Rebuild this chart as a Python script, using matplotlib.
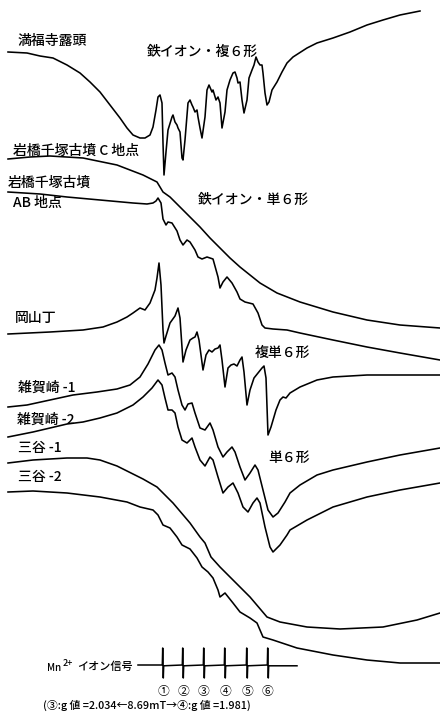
import numpy as np
import matplotlib
matplotlib.use("Agg")
import matplotlib.pyplot as plt

plt.rcParams['font.family'] = ['Noto Sans CJK JP', 'DejaVu Sans']

# ---- traced spectra (horizontal: field, vertical: page offset, image units) ----
manpukuji = [(8,52),(27,53),(40,56),(53,58),(67,65),(80,73),(90,82),(100,92),(110,105),(120,118),
             (127,128),(133,135),(140,138),(145,138),(150,135),(153,127),(156,110),(158,97),(160,95),
             (162,103),(163,143),(164,175),(166,152),(168,130),(172,117),(173,115),(175,122),(177,125),
             (178,128),(180,132),(182,158),(183,160),(185,140),(188,103),(190,100),(192,105),(193,107),
             (195,112),(197,110),(198,117),(200,128),(202,138),(205,117),(207,90),(209,85),(212,92),
             (213,90),(216,100),(218,97),(220,103),(222,128),(225,112),(227,90),(230,80),(233,73),
             (235,72),(237,78),(238,83),(240,82),(242,100),(244,113),(247,100),(249,78),(252,70),
             (254,65),(256,57),(258,62),(260,65),(262,65),(263,73),(265,93),(267,105),(269,102),
             (272,90),(277,82),(282,72),(287,63),(290,60),(293,57),(307,48),(317,43),(333,38),
             (350,32),(367,25),(383,20),(400,15),(420,11)]

iwase_c = [(8,159),(30,157),(50,156),(83,158),(117,165),(130,170),(143,175),(157,182),(160,187),
           (163,192),(170,197),(180,207),(190,217),(200,227),(210,238),(220,248),(230,258),(240,267),
           (250,275),(260,283),(277,293),(300,302),(333,312),(367,320),(400,325),(440,328)]

iwase_ab = [(8,192),(40,194),(67,197),(100,200),(133,203),(147,204),(153,203),(156,201),(158,198),
            (161,203),(163,219),(166,225),(168,222),(172,223),(177,231),(180,240),(183,245),(187,240),
            (190,242),(195,250),(198,257),(202,259),(207,257),(213,259),(218,277),(220,288),(223,282),
            (227,277),(232,283),(237,292),(240,299),(245,302),(253,304),(258,313),(262,325),(265,328),
            (273,329),(287,330),(300,333),(333,340),(367,347),(400,353),(440,360)]

okayama = [(8,334),(50,332),(83,330),(103,327),(117,322),(127,317),(133,313),(140,308),(145,310),
           (150,303),(155,290),(157,278),(159,263),(161,285),(163,330),(164,343),(166,336),(170,323),
           (175,316),(178,308),(180,318),(183,362),(186,350),(190,340),(193,338),(195,337),(197,332),
           (199,340),(203,370),(206,355),(209,350),(212,352),(215,349),(218,348),(220,345),(222,360),
           (225,387),(228,368),(231,365),(234,364),(237,366),(240,360),(242,357),(244,372),(247,405),
           (250,390),(254,378),(258,373),(262,368),(264,366),(266,378),(268,435),(271,427),(276,410),
           (280,400),(283,397),(286,398),(290,393),(300,387),(317,380),(333,377),(367,375),(400,375),
           (440,375)]

saikazaki_1 = [(8,407),(27,405),(50,400),(73,395),(97,392),(117,389),(130,385),(140,377),(148,364),
               (155,350),(159,345),(162,350),(165,363),(168,375),(172,373),(175,377),(178,390),(182,405),
               (185,410),(188,404),(192,403),(195,413),(200,428),(205,430),(210,423),(213,430),(218,447),
               (223,457),(227,452),(232,447),(235,452),(240,467),(245,480),(250,473),(255,465),(258,470),
               (263,490),(268,510),(273,517),(278,513),(285,502),(290,493),(300,485),(317,475),(333,470),
               (367,462),(400,455),(440,448)]

saikazaki_2 = [(8,437),(33,432),(50,428),(67,424),(83,422),(100,418),(117,413),(133,405),(143,397),
               (152,388),(158,380),(162,385),(165,398),(168,410),(172,410),(175,413),(178,427),(182,440),
               (187,443),(192,438),(195,447),(200,460),(205,466),(210,457),(213,460),(218,477),(223,493),
               (228,487),(233,483),(238,493),(243,507),(248,512),(253,503),(257,498),(260,503),(265,527),
               (270,547),(273,552),(280,545),(287,535),(290,530),(307,520),(333,507),(367,497),(400,490),
               (440,483)]

mitani_1 = [(8,463),(33,460),(67,458),(87,458),(100,460),(117,466),(133,474),(143,479),(157,487),
            (173,503),(190,523),(200,537),(205,543),(208,550),(211,557),(220,567),(233,580),(250,597),
            (267,617),(280,622),(307,627),(340,629),(383,627),(417,620),(440,613)]

mitani_2 = [(8,492),(33,491),(67,493),(100,497),(127,502),(140,507),(153,510),(158,515),(163,525),
            (170,528),(177,537),(182,545),(190,549),(197,558),(202,567),(208,572),(213,578),(218,590),
            (220,597),(225,593),(233,603),(240,612),(250,618),(257,623),(263,637),(273,640),(297,648),
            (333,655),(367,660),(400,663),(440,663)]

# Mn2+ marker signal
mn_range = (138, 297)
mn_base = 665
mn_peaks = [163, 183, 204, 225, 247, 268]
mn_up, mn_down = 648, 678
mn_labels = ['①', '②', '③', '④', '⑤', '⑥']

fig = plt.figure(figsize=(4.4, 7.2), dpi=100)
ax = fig.add_axes([0, 0, 1, 1])
ax.set_xlim(0, 440)
ax.set_ylim(720, 0)
ax.axis('off')

for curve in [manpukuji, iwase_c, iwase_ab, okayama, saikazaki_1, saikazaki_2, mitani_1, mitani_2]:
    arr = np.array(curve, dtype=float)
    ax.plot(arr[:, 0], arr[:, 1], color='black', lw=1.15, solid_joinstyle='round')

# Mn signal line
mx = [mn_range[0]]
my = [mn_base]
for p in mn_peaks:
    mx += [p - 0.7, p - 0.3, p + 0.3, p + 0.7]
    my += [mn_base, mn_up, mn_down, mn_base + 0.8]
mx.append(mn_range[1])
my.append(mn_base + 0.8)
ax.plot(mx, my, color='black', lw=1.1)

fs = 10
txt = dict(color='black', fontsize=fs, va='center', ha='left', fontweight='medium')
ax.text(18, 41, '満福寺露頭', **txt)
ax.text(147, 52, '鉄イオン・複６形', **txt)
ax.text(13, 151, '岩橋千塚古墳 C 地点', **txt)
ax.text(8, 183, '岩橋千塚古墳', **txt)
ax.text(13, 203, 'AB 地点', **txt)
ax.text(198, 200, '鉄イオン・単６形', **txt)
ax.text(15, 318, '岡山丁', **txt)
ax.text(255, 353, '複単６形', **txt)
ax.text(18, 388, '雑賀崎 -1', **txt)
ax.text(17, 420, '雑賀崎 -2', **txt)
ax.text(18, 448, '三谷 -1', **txt)
ax.text(268, 458, '単６形', **txt)
ax.text(18, 477, '三谷 -2', **txt)

ax.text(47, 668, 'Mn', fontsize=7, va='center', ha='left', fontweight='medium')
ax.text(63, 663, '2+', fontsize=6.5, va='center', ha='left', fontweight='medium')
ax.text(77, 667, 'イオン信号', fontsize=8, va='center', ha='left', fontweight='medium')
for p, lab in zip(mn_peaks, mn_labels):
    ax.text(p, 691, lab, fontsize=8.5, va='center', ha='center')
ax.text(43, 705, '(③:g 値 =2.034←8.69mT→④:g 値 =1.981)', fontsize=7.8, va='center', ha='left',
        fontweight='medium')

fig.savefig('out.png', dpi=100)
